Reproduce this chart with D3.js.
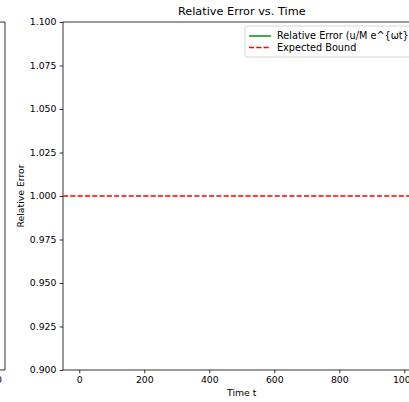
<!DOCTYPE html>
<html>
<head>
<meta charset="utf-8">
<script src="https://cdn.jsdelivr.net/npm/d3@7"></script>
<style>
  body { margin: 0; background: #fff; }
  svg { display: block; font-family: "DejaVu Sans", sans-serif; }
</style>
</head>
<body>
<div id="chart"></div>
<script>
// data
const timeDomain = [-50, 1050];
const errorDomain = [0.9, 1.1];
const xTicks = [0, 200, 400, 600, 800, 1000];
const yTicks = [0.9, 0.925, 0.95, 0.975, 1.0, 1.025, 1.05, 1.075, 1.1];
const times = [];        // relative error series: nothing visible in range
const relErr = [];
const boundValue = 1.0;
const seriesNames = ["Relative Error (u/M e^{ωt})", "Expected Bound"];

const width = 409, height = 402;
const margin = { top: 22, bottom: 32, left: 63 };
const plotRight = 420.5;
const fs = 9.3;

const svg = d3.select("#chart").append("svg")
  .attr("width", width).attr("height", height);

const x = d3.scaleLinear().domain(timeDomain).range([margin.left, plotRight]);
const y = d3.scaleLinear().domain(errorDomain).range([height - margin.bottom, margin.top]);

// bit of the neighbouring subplot on the left
svg.append("path")
  .attr("d", `M0,${y(1.1)}H5V${y(0.9)}H0`)
  .attr("fill", "none").attr("stroke", "#000").attr("stroke-width", 0.8);
svg.append("text").attr("x", 2).attr("y", y(0.9) + 13)
  .attr("text-anchor", "end").attr("font-size", fs).text("0");

// axes
const xAxis = svg.append("g")
  .attr("transform", `translate(0,${y(0.9)})`)
  .call(d3.axisBottom(x).tickValues(xTicks).tickSize(3.3).tickPadding(3.3).tickFormat(d3.format("d")));
const yAxis = svg.append("g")
  .attr("transform", `translate(${margin.left},0)`)
  .call(d3.axisLeft(y).tickValues(yTicks).tickSize(3.3).tickPadding(3.3).tickFormat(d3.format(".3f")));

[xAxis, yAxis].forEach(g => {
  g.select(".domain").remove();
  g.selectAll("line").attr("stroke", "#000").attr("stroke-width", 0.8);
  g.selectAll("text").attr("font-size", fs).attr("fill", "#000")
    .attr("font-family", "DejaVu Sans, sans-serif");
});

// frame
svg.append("path")
  .attr("d", `M${plotRight},${y(1.1)}H${margin.left}V${y(0.9)}H${plotRight}`)
  .attr("fill", "none").attr("stroke", "#000").attr("stroke-width", 0.8);

// lines
svg.append("clipPath").attr("id", "clip").append("rect")
  .attr("x", margin.left).attr("y", margin.top)
  .attr("width", plotRight - margin.left).attr("height", y(0.9) - y(1.1));

svg.append("path")
  .datum(times.map((t, i) => [t, relErr[i]]))
  .attr("clip-path", "url(#clip)")
  .attr("fill", "none").attr("stroke", "green").attr("stroke-width", 1.4)
  .attr("d", d3.line().x(d => x(d[0])).y(d => y(d[1])));

svg.append("line")
  .attr("x1", x(timeDomain[0])).attr("x2", x(timeDomain[1]))
  .attr("y1", y(boundValue)).attr("y2", y(boundValue))
  .attr("stroke", "red").attr("stroke-width", 1.4).attr("stroke-dasharray", "5.1,2.2");

// labels
svg.append("text").attr("x", (margin.left + plotRight) / 2).attr("y", 15)
  .attr("text-anchor", "middle").attr("font-size", 11.3).text("Relative Error vs. Time");
svg.append("text").attr("x", (margin.left + plotRight) / 2).attr("y", 396)
  .attr("text-anchor", "middle").attr("font-size", fs).text("Time t");
svg.append("text")
  .attr("transform", `translate(24,${(y(0.9) + y(1.1)) / 2}) rotate(-90)`)
  .attr("text-anchor", "middle").attr("font-size", fs).text("Relative Error");

// legend
const lg = svg.append("g").attr("transform", "translate(245,26)");
lg.append("rect").attr("width", 190).attr("height", 31).attr("rx", 2)
  .attr("fill", "#fff").attr("fill-opacity", 0.8).attr("stroke", "#ccc").attr("stroke-width", 0.8);
const colors = ["green", "red"];
seriesNames.forEach((name, i) => {
  const yy = 10 + i * 11.5;
  lg.append("line").attr("x1", 4).attr("x2", 26).attr("y1", yy).attr("y2", yy)
    .attr("stroke", colors[i]).attr("stroke-width", 1.4)
    .attr("stroke-dasharray", i === 1 ? "5.1,2.2" : null);
  lg.append("text").attr("x", 32).attr("y", yy + 3.4).attr("font-size", 9.7).text(name);
});
</script>
</body>
</html>
